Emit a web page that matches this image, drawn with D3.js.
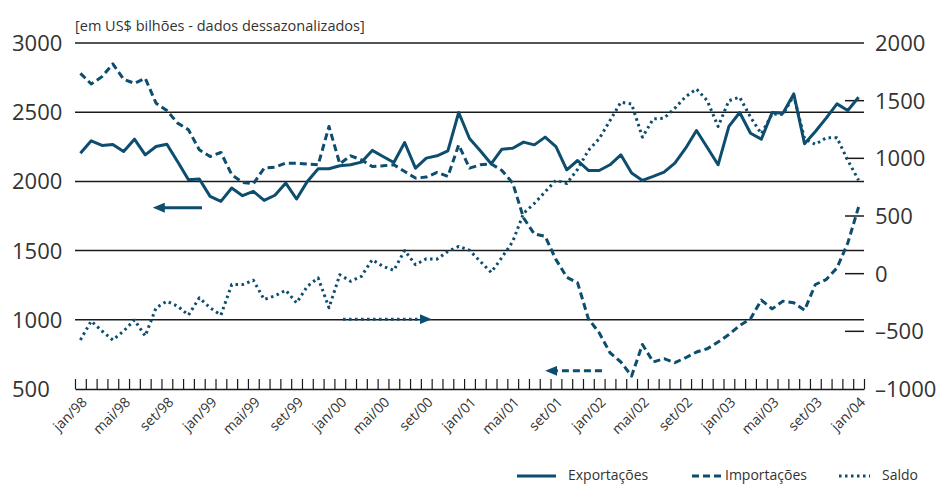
<!DOCTYPE html>
<html lang="pt">
<head>
<meta charset="UTF-8">
<title>Exportações, Importações e Saldo</title>
<script src="https://d3js.org/d3.v7.min.js"></script>
<style>
  html, body { margin: 0; padding: 0; background: white; }
  body { font-family: 'Open Sans', sans-serif; }
  .lbl { fill: #333; }
  .grid line { stroke: #1a1a1a; stroke-width: 1.5px; }
  .xaxis path { stroke: #1a1a1a; stroke-width: 1.5px; }
  .xaxis line { stroke: #1a1a1a; stroke-width: 1.2px; }
  .serie { fill: none; stroke: #0d4d6e; stroke-width: 3px; stroke-linejoin: round; }
</style>
</head>
<body>
<div id="chart"></div>
<script>

// ------------------------------
// Data
// ------------------------------

const monthNames = ["jan","fev","mar","abr","mai","jun","jul","ago","set","out","nov","dez"];
const years = ["98","99","00","01","02","03","04"];

const exportacoes = [2204, 2293, 2260, 2267, 2216, 2305, 2192, 2252, 2269, 2142,
  2012, 2017, 1892, 1856, 1952, 1897, 1928, 1863, 1900, 1988,
  1873, 2000, 2091, 2091, 2113, 2120, 2139, 2224, 2180, 2137,
  2281, 2096, 2168, 2185, 2221, 2498, 2310, 2222, 2127, 2233,
  2240, 2284, 2264, 2320, 2252, 2084, 2151, 2079, 2079, 2120,
  2192, 2060, 2007, 2036, 2067, 2132, 2240, 2368, 2245, 2120,
  2397, 2498, 2348, 2305, 2498, 2493, 2632, 2272, 2361, 2457,
  2560, 2512, 2608];

const importacoes = [2781, 2704, 2757, 2849, 2738, 2709, 2745, 2565, 2512, 2421,
  2373, 2228, 2180, 2209, 2048, 1993, 1983, 2096, 2103, 2132,
  2132, 2125, 2120, 2397, 2127, 2185, 2156, 2108, 2113, 2120,
  2072, 2024, 2031, 2065, 2036, 2264, 2096, 2120, 2127, 2079,
  1988, 1736, 1620, 1603, 1435, 1308, 1267, 1007, 906, 762,
  695, 594, 822, 695, 719, 690, 726, 767, 791, 839,
  894, 959, 1007, 1142, 1079, 1135, 1123, 1070, 1255, 1291,
  1375, 1555, 1815];

const saldo = [-575, -411, -497, -575, -497, -402, -540, -296, -239, -282,
  -359, -210, -296, -359, -95, -95, -57, -224, -192, -144,
  -253, -109, -37, -296, -9, -66, -23, 121, 63, 29,
  201, 78, 129, 126, 193, 236, 203, 106, 11, 140,
  279, 523, 609, 710, 810, 782, 905, 1069, 1170, 1328,
  1486, 1471, 1184, 1342, 1348, 1435, 1535, 1601, 1500, 1276,
  1500, 1530, 1357, 1213, 1385, 1380, 1543, 1170, 1121, 1178,
  1178, 983, 810];

const leftTicks = [500, 1000, 1500, 2000, 2500, 3000];
const rightTicks = [-1000, -500, 0, 500, 1000, 1500, 2000];

// month labels jan/98 .. jan/04
let months = [];
years.forEach(y => monthNames.forEach(m => months.push(m + "/" + y)));
months = months.slice(0, exportacoes.length);

// arrows: from / to month position, value on its axis
const arrows = [
  {from: 11.75, to: 7.2, value: 1810, axis: "left", dash: null},
  {from: 24.8, to: 33.0, value: -395, axis: "right", dash: "2.5,3.5"},
  {from: 48.75, to: 43.5, value: 631, axis: "left", dash: "7,4"}
];

// ------------------------------
// Size
// ------------------------------

const totalWidth = 943, totalHeight = 484;
const plotLeft = 75, plotRight = 864, plotTop = 43, plotBottom = 389;

const svg = d3.select("#chart").append("svg")
  .attr("width", totalWidth)
  .attr("height", totalHeight);

const defs = svg.append("defs");
defs.append("marker")
  .attr("id", "head")
  .attr("markerUnits", "userSpaceOnUse")
  .attr("viewBox", "0 0 12 10")
  .attr("refX", 2).attr("refY", 5)
  .attr("markerWidth", 12).attr("markerHeight", 10)
  .attr("orient", "auto")
  .append("path")
  .attr("d", "M0,0 L12,5 L0,10 Z")
  .attr("fill", "#0d4d6e");

// ------------------------------
// Scales
// ------------------------------

const x = d3.scaleLinear().domain([0, months.length]).range([plotLeft, plotRight]);
const yL = d3.scaleLinear().domain([500, 3000]).range([plotBottom, plotTop]);
const yR = d3.scaleLinear().domain([-1000, 2000]).range([plotBottom, plotTop]);

// ------------------------------
// Grid + axes
// ------------------------------

svg.append("g").attr("class", "grid")
  .selectAll("line")
  .data(leftTicks.filter(d => d > 500))
  .join("line")
  .attr("x1", plotLeft).attr("x2", plotRight)
  .attr("y1", d => yL(d)).attr("y2", d => yL(d));

// right axis short ticks
svg.append("g").attr("class", "grid")
  .selectAll("line")
  .data(rightTicks.filter(d => d > -1000 && d < 2000))
  .join("line")
  .attr("x1", plotRight - 19).attr("x2", plotRight)
  .attr("y1", d => yR(d)).attr("y2", d => yR(d));

svg.append("g")
  .attr("class", "xaxis")
  .attr("transform", `translate(0,${plotBottom})`)
  .call(d3.axisBottom(x)
    .tickValues(d3.range(months.length + 1))
    .tickSizeInner(-10)
    .tickSizeOuter(0)
    .tickFormat(""));

svg.append("g").selectAll("text")
  .data(leftTicks)
  .join("text")
  .attr("class", "lbl")
  .attr("x", 12)
  .attr("y", d => yL(d))
  .attr("dy", "0.36em")
  .attr("font-size", 22)
  .text(d => d);

svg.append("g").selectAll("text")
  .data(rightTicks)
  .join("text")
  .attr("class", "lbl")
  .attr("x", 875)
  .attr("y", d => yR(d))
  .attr("dy", "0.36em")
  .attr("font-size", 22)
  .text(d => d < 0 ? "\u2013" + Math.abs(d) : d);

// x labels every 4 months
svg.append("g").selectAll("text")
  .data(months.filter((m, i) => i % 4 === 0))
  .join("text")
  .attr("class", "lbl")
  .attr("font-size", 14)
  .attr("text-anchor", "end")
  .attr("transform", d => `translate(${x(months.indexOf(d) + 0.5) + 7.5},${plotBottom + 14}) rotate(-45)`)
  .text(d => d);

svg.append("text")
  .attr("class", "lbl")
  .attr("x", plotLeft)
  .attr("y", 31)
  .attr("font-size", 14.5)
  .text("[em US$ bilhões - dados dessazonalizados]");

// ------------------------------
// Lines
// ------------------------------

const lineL = d3.line().x((d, i) => x(i + 0.5)).y(d => yL(d));
const lineR = d3.line().x((d, i) => x(i + 0.5)).y(d => yR(d));

svg.append("path").datum(exportacoes).attr("class", "serie").attr("d", lineL);
svg.append("path").datum(importacoes).attr("class", "serie")
  .attr("stroke-dasharray", "7,4").attr("d", lineL);
svg.append("path").datum(saldo).attr("class", "serie")
  .attr("stroke-dasharray", "2.5,3.5").attr("d", lineR);

// arrows
arrows.forEach(a => {
  const ys = a.axis === "left" ? yL : yR;
  const dir = a.to > a.from ? -1 : 1;
  svg.append("line")
    .attr("class", "serie")
    .attr("x1", x(a.from)).attr("x2", x(a.to) + dir * 10)
    .attr("y1", ys(a.value)).attr("y2", ys(a.value))
    .attr("stroke-dasharray", a.dash)
    .attr("marker-end", "url(#head)");
});

// ------------------------------
// Legend
// ------------------------------

const legendItems = [
  {name: "Exportações", dash: null, x1: 517, x2: 556, tx: 568},
  {name: "Importações", dash: "7,4", x1: 692, x2: 722, tx: 725},
  {name: "Saldo", dash: "2.5,3.5", x1: 839, x2: 870, tx: 882}
];

const legend = svg.append("g").attr("transform", "translate(0,476)");
legend.selectAll("line")
  .data(legendItems)
  .join("line")
  .attr("class", "serie")
  .attr("x1", d => d.x1).attr("x2", d => d.x2)
  .attr("y1", 0).attr("y2", 0)
  .attr("stroke-dasharray", d => d.dash);
legend.selectAll("text")
  .data(legendItems)
  .join("text")
  .attr("class", "lbl")
  .attr("x", d => d.tx)
  .attr("y", 4)
  .attr("font-size", 14)
  .text(d => d.name);

</script>
</body>
</html>
